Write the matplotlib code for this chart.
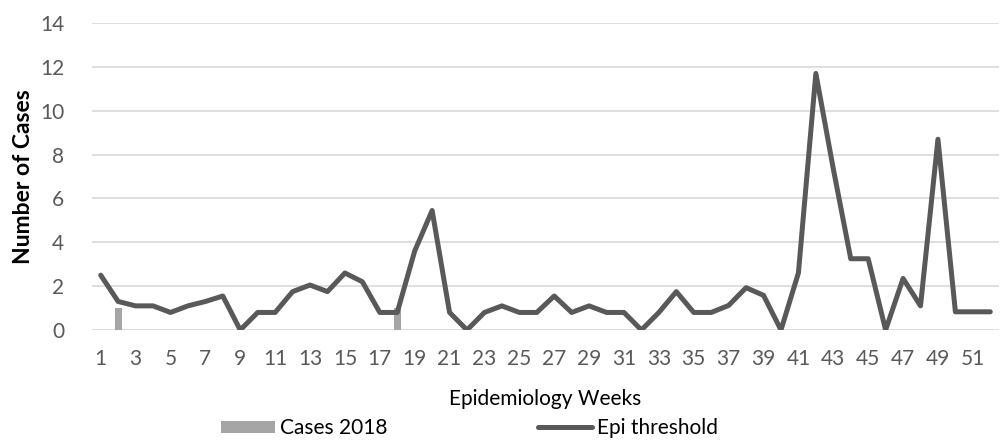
import numpy as np
import matplotlib.pyplot as plt

weeks = list(range(1, 53))
cases_2018 = [0, 1, 0, 0, 0, 0, 0, 0, 0, 0, 0, 0, 0, 0, 0, 0, 0, 1, 0, 0,
              0, 0, 0, 0, 0, 0, 0, 0, 0, 0, 0, 0, 0, 0, 0, 0, 0, 0, 0, 0,
              0, 0, 0, 0, 0, 0, 0, 0, 0, 0, 0, 0]
epi_threshold = [2.5, 1.3, 1.1, 1.1, 0.8, 1.1, 1.3, 1.55, 0, 0.8,
                 0.8, 1.75, 2.05, 1.75, 2.6, 2.2, 0.8, 0.8, 3.6, 5.45,
                 0.8, 0, 0.8, 1.1, 0.8, 0.8, 1.55, 0.8, 1.1, 0.8,
                 0.8, 0, 0.8, 1.75, 0.8, 0.8, 1.12, 1.93, 1.58, 0,
                 2.6, 11.7, 7.35, 3.25, 3.25, 0, 2.35, 1.1, 8.7, 0.83,
                 0.83, 0.83]
y_ticks = [0, 2, 4, 6, 8, 10, 12, 14]

plt.rcParams['font.family'] = ['Lato', 'DejaVu Sans']

fig = plt.figure(figsize=(10.06, 4.4), dpi=100)
ax = fig.add_axes([92 / 1006, 1 - 330 / 440, 907 / 1006, 307 / 440])

x = np.arange(len(weeks))
bars = ax.bar(x, cases_2018, width=0.42, color='#A5A5A5', label='Cases 2018', zorder=2)
line, = ax.plot(x, epi_threshold, color='#595959', lw=3.6, solid_joinstyle='round',
                solid_capstyle='round', label='Epi threshold', zorder=3)

ax.set_xlim(-0.5, len(weeks) - 0.5)
ax.set_ylim(0, 14)
ax.set_yticks(y_ticks)
ax.set_xticks(x[::2])
ax.set_xticklabels([str(w) for w in weeks[::2]])
ax.tick_params(axis='both', length=0, labelsize=15, colors='#595959')
ax.tick_params(axis='x', pad=14)
ax.tick_params(axis='y', pad=20)
ax.grid(axis='y', color='#D9D9D9', lw=1.2, zorder=0)
ax.set_axisbelow(True)
for s in ax.spines.values():
    s.set_visible(False)

ax.set_xlabel('Epidemiology Weeks', fontsize=15, color='black', labelpad=14)
ax.set_ylabel('Number of Cases', fontsize=16.5, fontweight='bold', color='black', labelpad=4)

fig.legend(handles=[bars, line], loc='center left',
           bbox_to_anchor=(221 / 1006, 1 - 428 / 440), ncol=2,
           frameon=False, fontsize=15, handlelength=2.6, handleheight=0.5,
           handletextpad=0.25, columnspacing=7.2, borderpad=0, borderaxespad=0)

plt.savefig('out.png', dpi=100)
